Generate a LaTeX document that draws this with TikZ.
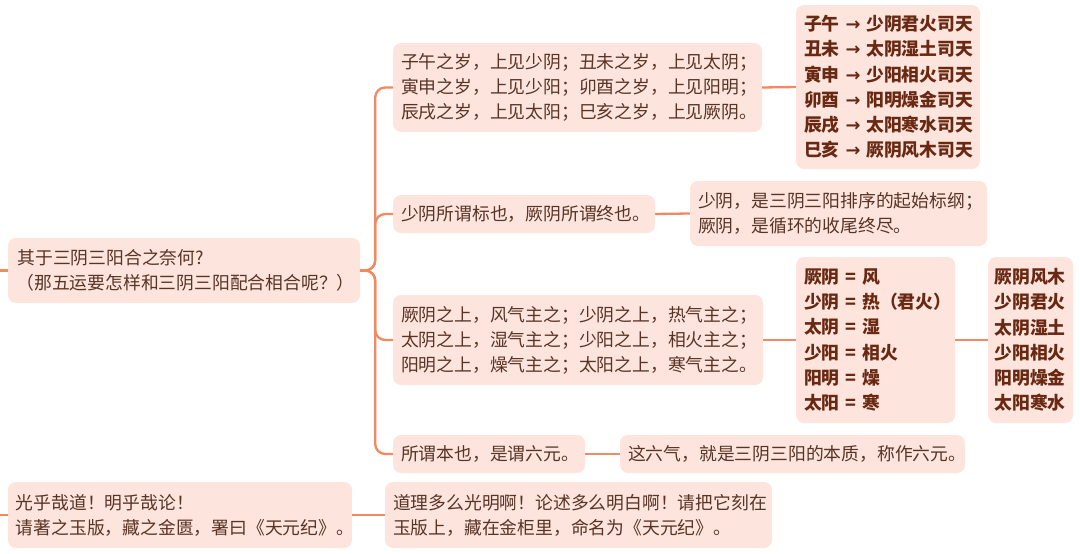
\documentclass[tikz,border=0pt]{standalone}
\usepackage{fontspec}
\newfontfamily\cjk{Noto Sans CJK SC}
\newfontfamily\sym{DejaVu Sans}
\definecolor{boxfill}{RGB}{253,228,220}
\definecolor{txt}{RGB}{88,52,38}
\definecolor{btxt}{RGB}{104,40,18}
\definecolor{conn}{RGB}{241,137,98}
\tikzset{
  mbox/.style={fill=boxfill, draw=none, rounded corners=8pt, inner xsep=8pt, inner ysep=0pt,
    align=left, text=txt, font=\cjk\fontsize{17.8}{25}\selectfont},
  bbox/.style={mbox, text=btxt, font=\cjk\bfseries\fontsize{17.8}{25.3}\selectfont},
  wire/.style={draw=conn, line width=2.3pt},
}
\newcommand{\arr}{{\sym →}}
\begin{document}
\begin{tikzpicture}[x=1pt,y=-1pt]
\useasboundingbox (0,0) rectangle (1080,554);
% nodes
\node[mbox, minimum width=352pt, minimum height=65pt, text width=335pt] (M) at (184,270.5)
  {\hspace{1pt}其于三阴三阳合之奈何?\\（那五运要怎样和三阴三阳配合相合呢？）};
\node[mbox, minimum width=369pt, minimum height=89pt, text width=353pt] (A) at (577.5,87.5)
  {子午之岁，上见少阴；丑未之岁，上见太阴；\\寅申之岁，上见少阳；卯酉之岁，上见阳明；\\辰戌之岁，上见太阳；巳亥之岁，上见厥阴。};
\node[bbox, minimum width=184pt, minimum height=164pt, text width=168pt] (B) at (888,87)
  {\mbox{子午~\arr~少阴君火司天}\\\mbox{丑未~\arr~太阴湿土司天}\\\mbox{寅申~\arr~少阳相火司天}\\\mbox{卯酉~\arr~阳明燥金司天}\\\mbox{辰戌~\arr~太阳寒水司天}\\\mbox{巳亥~\arr~厥阴风木司天}};
\node[mbox, minimum width=262pt, minimum height=38pt, text width=246pt] (C) at (524,214)
  {少阴所谓标也，厥阴所谓终也。};
\node[mbox, minimum width=297pt, minimum height=65pt, text width=281pt] (D) at (838.5,213.5)
  {少阴，是三阴三阳排序的起始标纲；\\厥阴，是循环的收尾终尽。};
\node[mbox, minimum width=370pt, minimum height=90pt, text width=354pt] (E) at (578,340)
  {厥阴之上，风气主之；少阴之上，热气主之；\\太阴之上，湿气主之；少阳之上，相火主之；\\阳明之上，燥气主之；太阳之上，寒气主之。};
\node[bbox, minimum width=159pt, minimum height=166pt, text width=143pt] (F) at (875.5,340)
  {\mbox{厥阴~=~风}\\\mbox{少阴~=~热（君火）}\\\mbox{太阴~=~湿}\\\mbox{少阳~=~相火}\\\mbox{阳明~=~燥}\\\mbox{太阳~=~寒}};
\node[bbox, minimum width=85pt, minimum height=166pt, text width=72pt, inner xsep=6.5pt] (G) at (1030.5,340)
  {厥阴风木\\少阴君火\\太阴湿土\\少阳相火\\阳明燥金\\太阳寒水};
\node[mbox, minimum width=192pt, minimum height=38pt, text width=176pt] (H) at (489,454)
  {所谓本也，是谓六元。};
\node[mbox, minimum width=345pt, minimum height=38pt, text width=329pt] (I) at (792.5,454)
  {这六气，就是三阴三阳的本质，称作六元。};
\node[mbox, minimum width=344pt, minimum height=66pt, text width=328pt] (J) at (180,515)
  {光乎哉道！明乎哉论！\\请著之玉版，藏之金匮，署曰《天元纪》。};
\node[mbox, minimum width=387pt, minimum height=66pt, text width=371pt] (K) at (578.5,515)
  {道理多么光明啊！论述多么明白啊！请把它刻在\\玉版上，藏在金柜里，命名为《天元纪》。};
% free ends
\coordinate (inM) at (0,270.5);
\coordinate (inJ) at (0,515);
% connectors
\draw[wire] (inM) -- (M.west);
\draw[wire] (inJ) -- (J.west);
\draw[wire, rounded corners=10pt] (M.east) -- ++(15,0) |- (A.west);
\draw[wire, rounded corners=10pt] (M.east) -- ++(15,0) |- (C.west);
\draw[wire, rounded corners=10pt] (M.east) -- ++(15,0) |- (E.west);
\draw[wire, rounded corners=10pt] (M.east) -- ++(15,0) |- (H.west);
\draw[wire] (A.east) -- (B.west);
\draw[wire] (C.east) -- (D.west);
\draw[wire] (E.east) -- (F.west);
\draw[wire] (F.east) -- (G.west);
\draw[wire] (H.east) -- (I.west);
\draw[wire] (J.east) -- (K.west);
\end{tikzpicture}
\end{document}
